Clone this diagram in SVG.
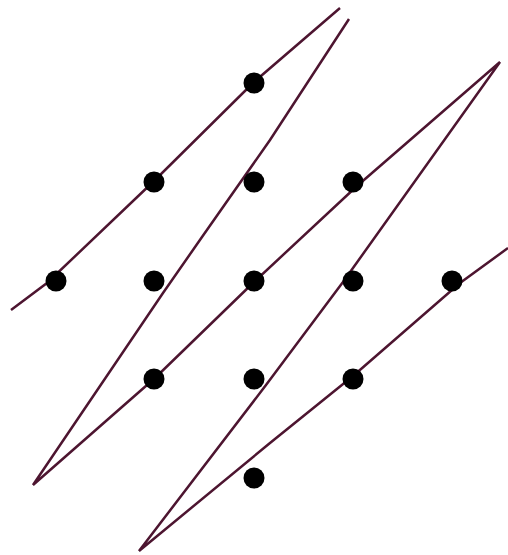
<svg xmlns="http://www.w3.org/2000/svg" width="508" height="555" viewBox="0 0 508 555">
<style>
.ln{fill:none;stroke:#4d1530;stroke-width:2.5;stroke-linejoin:miter}
.dot{fill:#000}
</style>
<rect width="508" height="555" fill="#fff"/>
<g id="connectors">
<polyline class="ln" points="11,310 47,283 154,181 254,82 340,8"/>
<polyline class="ln" points="349,19 270,140 202,237 163,293 33,485 155,378 254,282 357,186 500,62 343,282 266,385 139,551 270,443 353,376 460,283 508,248"/>
</g>
<g id="n1"><circle class="dot" cx="254" cy="83" r="10.5"/></g>
<g id="n2"><circle class="dot" cx="154" cy="182" r="10.5"/></g>
<g id="n3"><circle class="dot" cx="254" cy="182" r="10.5"/></g>
<g id="n4"><circle class="dot" cx="353" cy="182" r="10.5"/></g>
<g id="n5"><circle class="dot" cx="56" cy="281" r="10.5"/></g>
<g id="n6"><circle class="dot" cx="154" cy="281" r="10.5"/></g>
<g id="n7"><circle class="dot" cx="254" cy="281" r="10.5"/></g>
<g id="n8"><circle class="dot" cx="353" cy="281" r="10.5"/></g>
<g id="n9"><circle class="dot" cx="452" cy="281" r="10.5"/></g>
<g id="n10"><circle class="dot" cx="154" cy="379" r="10.5"/></g>
<g id="n11"><circle class="dot" cx="254" cy="379" r="10.5"/></g>
<g id="n12"><circle class="dot" cx="353" cy="379" r="10.5"/></g>
<g id="n13"><circle class="dot" cx="254" cy="478" r="10.5"/></g>
</svg>
